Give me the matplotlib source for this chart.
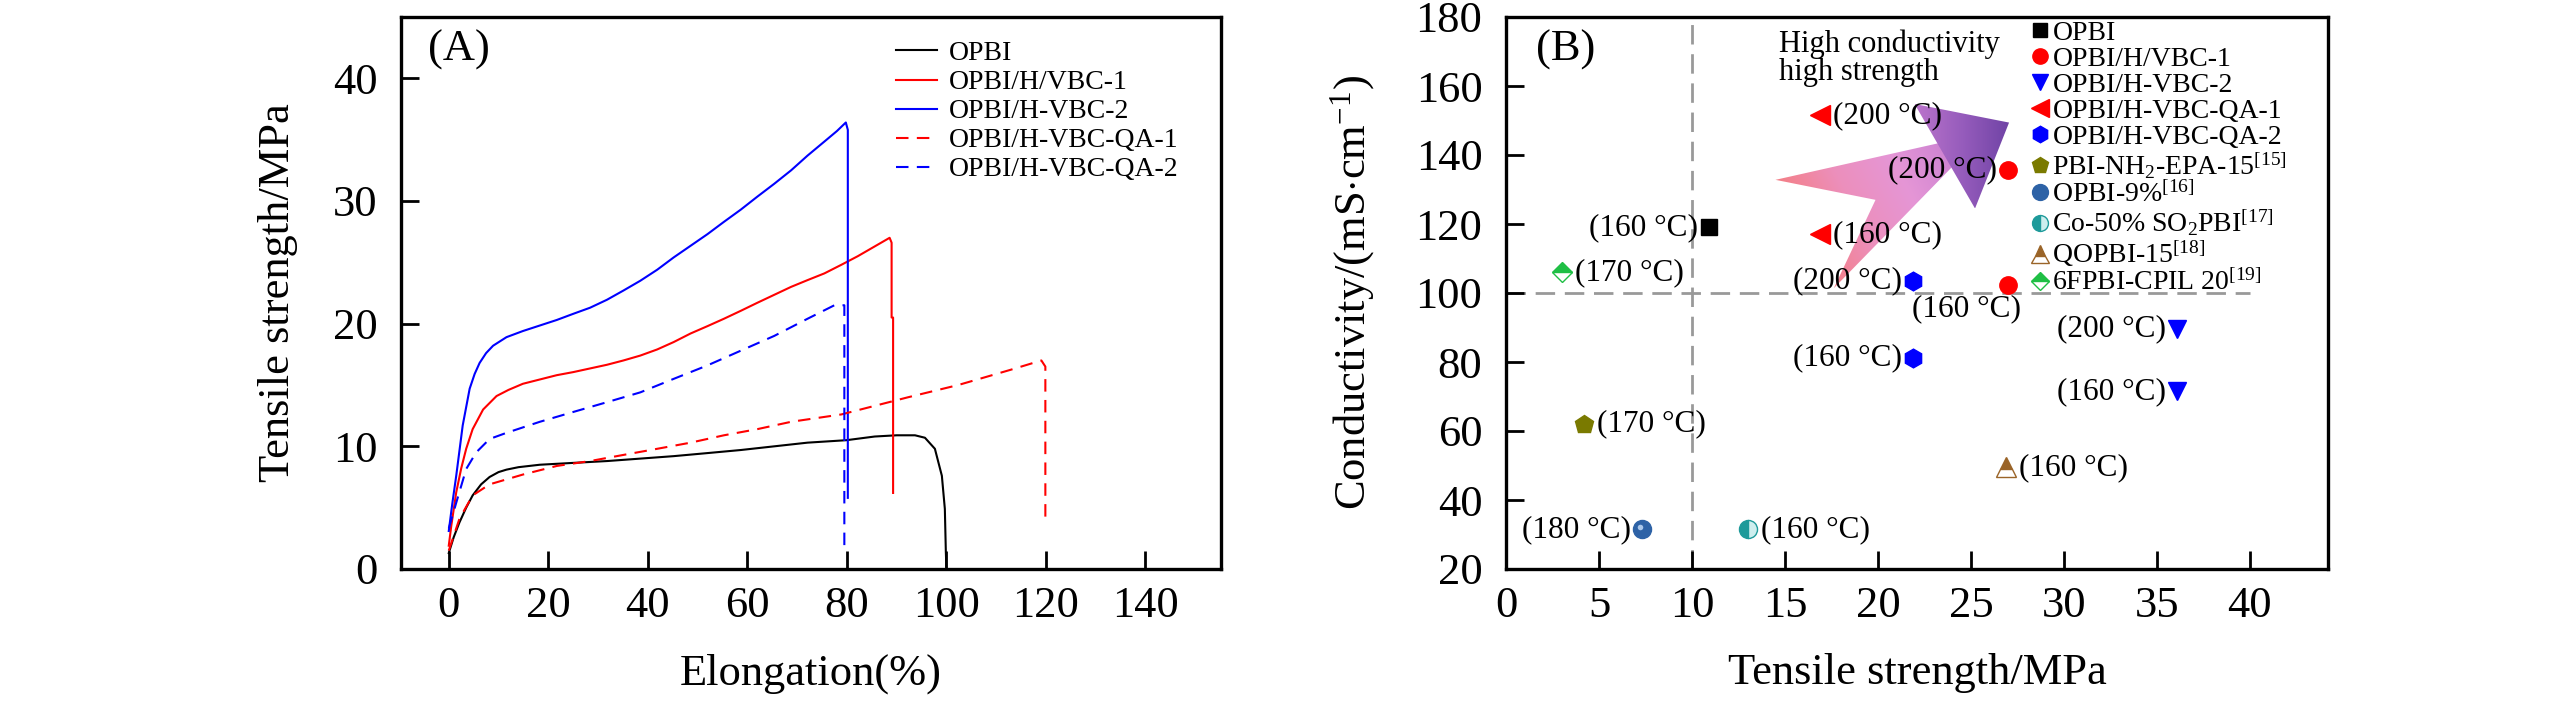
import numpy as np
import matplotlib
matplotlib.use("Agg")
import matplotlib.pyplot as plt
import matplotlib.transforms as mtransforms
from matplotlib.patches import Polygon
from matplotlib.colors import LinearSegmentedColormap

plt.rcParams['font.family'] = 'Liberation Serif'
plt.rcParams['mathtext.fontset'] = 'custom'
plt.rcParams['mathtext.rm'] = 'Liberation Serif'
plt.rcParams['mathtext.it'] = 'Liberation Serif:italic'
plt.rcParams['mathtext.bf'] = 'Liberation Serif:bold'

# ---- panel A: stress-strain curves (elongation %, tensile strength MPa)
opbi_el = [0, 1, 2.15, 3.5, 4.8, 6.5, 8.2, 10, 11.6, 14, 18.3, 25, 31.8, 38.5, 45.2, 52, 58.7,
           65.4, 72.1, 79.9, 85.6, 90, 93.7, 95.7, 97.7, 99.1, 99.7, 99.9, 100]
opbi_ts = [1.3, 2.6, 3.8, 5.0, 6.0, 6.9, 7.5, 7.9, 8.1, 8.3, 8.5, 8.65, 8.8, 9.0, 9.2, 9.45, 9.7,
           10.0, 10.3, 10.5, 10.8, 10.9, 10.9, 10.7, 9.8, 7.6, 4.9, 1.4, 0.2]

vbc1_el = [0, 0.5, 1.5, 2.5, 3.5, 4.8, 6.9, 9.6, 12, 14.9, 18.3, 21.7, 25.0, 28.4, 31.8, 35.1,
           38.5, 41.9, 45.2, 48.6, 52.0, 55.3, 58.7, 62.0, 65.4, 68.8, 72.1, 75.5, 78.9, 82.2,
           85.4, 88.6, 89.0, 89.0, 89.3, 89.3]
vbc1_ts = [1.9, 3.5, 6.25, 8.2, 9.8, 11.4, 13.0, 14.1, 14.6, 15.1, 15.45, 15.8, 16.05, 16.35,
           16.65, 17.0, 17.4, 17.9, 18.5, 19.2, 19.8, 20.4, 21.05, 21.7, 22.35, 23.0, 23.55,
           24.1, 24.8, 25.5, 26.25, 27.0, 26.6, 20.5, 20.5, 6.2]

vbc2_el = [0, 0.7, 1.5, 2.8, 4.2, 5.2, 6.2, 7.5, 8.9, 11.6, 14.9, 18.3, 21.7, 25.0, 28.4, 31.8,
           35.1, 38.5, 41.9, 45.2, 48.6, 52.0, 55.3, 58.7, 62.0, 65.4, 68.8, 72.1, 75.5, 78.0,
           79.8, 80.2, 80.2]
vbc2_ts = [3.1, 5.3, 7.6, 11.7, 14.7, 15.9, 16.8, 17.6, 18.2, 18.9, 19.4, 19.85, 20.3, 20.8,
           21.3, 21.95, 22.7, 23.5, 24.4, 25.4, 26.35, 27.3, 28.3, 29.3, 30.35, 31.4, 32.5,
           33.7, 34.85, 35.7, 36.4, 35.8, 5.8]

qa1_el = [0, 2.15, 4.8, 8.2, 14.9, 21.7, 28.4, 35.1, 41.9, 48.6, 55.3, 62.0, 68.8, 78.9, 85.6,
          92.3, 102.4, 107.5, 113.0, 119.1, 119.9, 119.9]
qa1_ts = [1.5, 4.1, 6.0, 6.9, 7.7, 8.4, 8.8, 9.3, 9.8, 10.3, 10.9, 11.4, 12.0, 12.6, 13.3,
          14.0, 15.0, 15.6, 16.25, 17.0, 16.5, 4.2]

qa2_el = [0, 1.5, 3.5, 5.5, 8.2, 11.6, 18.3, 25.0, 31.8, 38.5, 45.2, 52.0, 58.7, 65.4, 72.1,
          77.5, 79.5, 79.5]
qa2_ts = [3.3, 5.4, 8.15, 9.5, 10.6, 11.1, 12.0, 12.8, 13.6, 14.4, 15.5, 16.6, 17.8, 19.0, 20.4,
          21.5, 21.5, 1.5]

# ---- panel B: tensile strength (MPa) vs conductivity (mS/cm), temperature in degC
b_names = ['OPBI', 'OPBI/H/VBC-1', 'OPBI/H-VBC-2', 'OPBI/H-VBC-QA-1', 'OPBI/H-VBC-QA-2',
           r'PBI-NH$_{\mathrm{2}}$-EPA-15$^{\mathrm{[15]}}$', r'OPBI-9%$^{\mathrm{[16]}}$',
           r'Co-50% SO$_{\mathrm{2}}$PBI$^{\mathrm{[17]}}$', r'QOPBI-15$^{\mathrm{[18]}}$',
           r'6FPBI-CPIL 20$^{\mathrm{[19]}}$']
b_strength = [[10.9], [27.0, 27.0], [36.1, 36.1], [16.9, 16.9], [21.9, 21.9],
              [4.2], [7.3], [13.0], [26.9], [3.0]]
b_cond = [[119.0], [135.7, 102.3], [89.6, 71.5], [151.5, 117.0], [103.5, 81.2],
          [62.0], [31.5], [31.5], [49.5], [106.0]]
b_temp = [[160], [200, 160], [200, 160], [200, 160], [200, 160],
          [170], [180], [160], [160], [170]]

strength_line = 10
cond_line = 100
cond_line_end = 40

# decorative gradient arrow (data coords of panel B)
arrow_body_x = [17.63, 19.87, 14.49, 23.82, 24.36]
arrow_body_y = [101.4, 127.0, 132.8, 144.1, 138.6]
arrow_head_x = [21.97, 27.05, 25.22]
arrow_head_y = [154.8, 149.4, 124.5]

# ---- styles
b_styles = [
    dict(marker='s', color='black', ms=11),
    dict(marker='o', color='#ff0000', ms=12.5),
    dict(marker='v', color='#0000ff', ms=13),
    dict(marker='<', color='#ff0000', ms=14.5),
    dict(marker='h', color='#0000ff', ms=13.5),
    dict(marker='p', color='#7a7a00', ms=13.5),
    dict(marker='o', color='#2d62a6', ms=13),
    dict(marker='o', color='#1e9a9a', ms=13, fillstyle='left', markerfacecoloralt='#cdeeee'),
    dict(marker='^', color='#9a6428', ms=14.5, fillstyle='top', markerfacecoloralt='white'),
    dict(marker='D', color='#1fbf45', ms=10.5, fillstyle='top', markerfacecoloralt='white'),
]
# label side for each point: l = left, r = right, b = below-left
b_sides = [['l'], ['l', 'b'], ['l', 'l'], ['r', 'r'], ['l', 'l'],
           ['r'], ['l'], ['r'], ['r'], ['r']]
side_offsets = {'l': ((-8, 0), 'right'), 'r': ((9.5, 0), 'left'), 'b': ((-30, -17), 'center')}

W, H = 2567, 709
fig = plt.figure(figsize=(W / 100, H / 100), dpi=100)
axA = fig.add_axes([401 / W, 1 - 569 / H, 820 / W, 552 / H])
axB = fig.add_axes([1506 / W, 1 - 569 / H, 822 / W, 552 / H])

for ax in (axA, axB):
    for s in ax.spines.values():
        s.set_linewidth(2.4)
    ax.tick_params(direction='in', length=13, width=2, labelsize=32, top=False, right=False)
    ax.tick_params(axis='x', pad=12)
    ax.tick_params(axis='y', pad=17)

# ---------- panel A
lw = 1.5
axA.plot(opbi_el, opbi_ts, color='black', lw=lw, label='OPBI')
axA.plot(vbc1_el, vbc1_ts, color='#ff0000', lw=lw, label='OPBI/H/VBC-1')
axA.plot(vbc2_el, vbc2_ts, color='#0000ff', lw=lw, label='OPBI/H-VBC-2')
axA.plot(qa1_el, qa1_ts, color='#ff0000', lw=lw, ls='--', dashes=(6, 4), label='OPBI/H-VBC-QA-1')
axA.plot(qa2_el, qa2_ts, color='#0000ff', lw=lw, ls='--', dashes=(6, 4), label='OPBI/H-VBC-QA-2')

axA.set_xlim(-9.6, 155.2)
axA.set_ylim(0, 45)
axA.set_xticks(range(0, 141, 20))
axA.set_yticks(range(0, 41, 10))
axA.set_xlabel('Elongation(%)', fontsize=32)
axA.xaxis.set_label_coords(0.5, -0.153)
axA.set_ylabel('Tensile strength/MPa', fontsize=32)
axA.yaxis.set_label_coords(-0.1256, 0.5)
axA.text(0.033, 0.94, '(A)', transform=axA.transAxes, fontsize=32, ha='left', va='center')
axA.legend(loc='upper left', bbox_to_anchor=(0.604, 0.957), frameon=False, fontsize=20,
           handlelength=1.48, handletextpad=0.4, borderpad=0, borderaxespad=0, labelspacing=0.13)

# ---------- panel B
axB.axvline(strength_line, color='#999999', lw=2, dashes=(7, 3.5), zorder=1)
axB.plot([0, cond_line_end], [cond_line, cond_line], color='#999999', lw=2, dashes=(7, 3.5), zorder=1)

# gradient arrow
def gradient_patch(ax, xs, ys, tfunc, colors):
    poly = Polygon(np.column_stack([xs, ys]), closed=True, facecolor='none', edgecolor='none',
                   transform=ax.transData)
    ax.add_patch(poly)
    gx = np.linspace(min(xs), max(xs), 300)
    gy = np.linspace(min(ys), max(ys), 300)
    X, Y = np.meshgrid(gx, gy)
    t = np.clip(tfunc(X, Y), 0, 1)
    cmap = LinearSegmentedColormap.from_list('g', colors)
    im = ax.imshow(cmap(t), extent=(gx[0], gx[-1], gy[0], gy[-1]), origin='lower',
                   aspect='auto', interpolation='bilinear', zorder=2)
    im.set_clip_path(poly)

gradient_patch(axB, arrow_body_x, arrow_body_y,
               lambda X, Y: (0.886 * (X - 14.49) * 18.57 + 0.464 * (Y - 132.8) * 3.45) / 170.0,
               ['#f47f86', '#ec8fbc', '#e596d6', '#cc82d2'])
gradient_patch(axB, arrow_head_x, arrow_head_y,
               lambda X, Y: (X - 21.97) / 5.1,
               ['#bb74cb', '#965cbc', '#6f43a5'])

handles = []
for name, xs, ys, st in zip(b_names, b_strength, b_cond, b_styles):
    h, = axB.plot(xs, ys, ls='none', mec=st['color'], mew=1, label=name, zorder=4, **st)
    handles.append(h)

# highlight on the shaded sphere marker of OPBI-9%
hl = mtransforms.offset_copy(axB.transData, fig=fig, x=-1.5, y=1.5, units='points')
axB.plot(b_strength[6], b_cond[6], ls='none', marker='o', ms=4, color='#a9c6ea',
         mec='none', transform=hl, zorder=5)

for xs, ys, temps, sides in zip(b_strength, b_cond, b_temp, b_sides):
    for x, y, t, s in zip(xs, ys, temps, sides):
        off, ha = side_offsets[s]
        axB.annotate(f'({t} °C)', (x, y), xytext=off, textcoords='offset points',
                     ha=ha, va='center', fontsize=22.5, zorder=6)

axB.text(14.67, 168.1, 'High conductivity\nhigh strength', fontsize=22, ha='left',
         va='center', linespacing=0.95, zorder=6)
axB.text(0.0365, 0.94, '(B)', transform=axB.transAxes, fontsize=32, ha='left', va='center')

axB.set_xlim(0, 44.2)
axB.set_ylim(20, 180)
axB.set_xticks(range(0, 41, 5))
axB.set_yticks(range(20, 181, 20))
axB.set_xlabel('Tensile strength/MPa', fontsize=32)
axB.xaxis.set_label_coords(0.5, -0.153)
axB.set_ylabel(r'Conductivity/(mS$\cdot$cm$^{\mathrm{-1}}$)', fontsize=32)
axB.yaxis.set_label_coords(-0.157, 0.5)
axB.legend(handles=handles, loc='upper left', bbox_to_anchor=(0.636, 0.994), frameon=False,
           fontsize=20, handlelength=0.8, handletextpad=0.05, borderpad=0, borderaxespad=0,
           labelspacing=0.02, markerscale=0.88)

fig.savefig('out.png', dpi=100)
